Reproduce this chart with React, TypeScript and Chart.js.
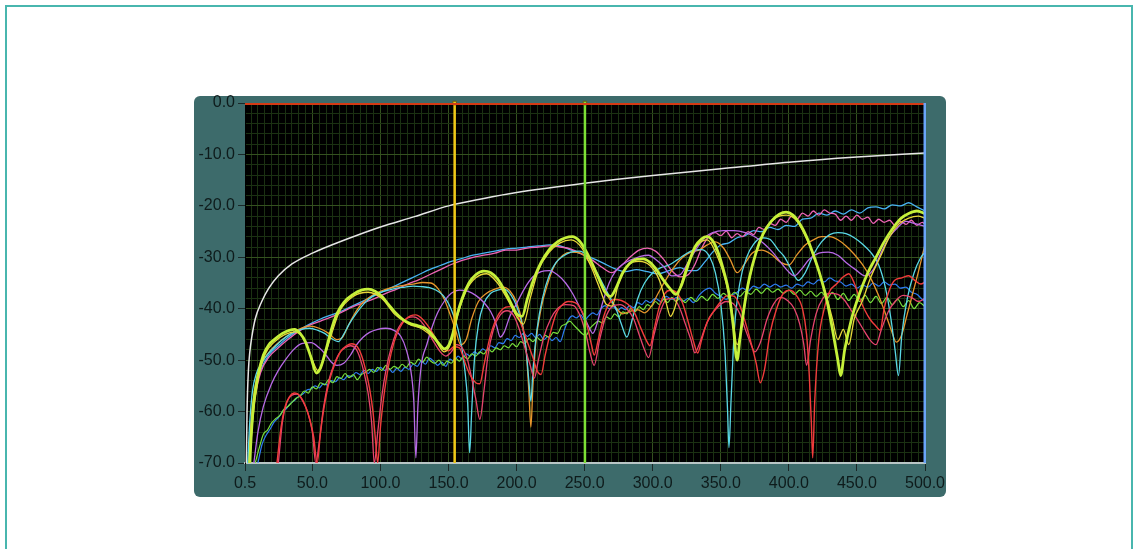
import React, { useEffect, useRef } from 'react';
import { Chart, registerables } from 'chart.js';

Chart.register(...registerables);

type P = [number, number];

// ---------- axes ----------
const X_MIN = 0.5;
const X_MAX = 500;
const Y_MIN = -70;
const Y_MAX = 0;
const xMajorTicks = [0.5, 50, 100, 150, 200, 250, 300, 350, 400, 450, 500];
const xMajorLabels = ['0.5', '50.0', '100.0', '150.0', '200.0', '250.0', '300.0', '350.0', '400.0', '450.0', '500.0'];
const yMajorTicks = [0, -10, -20, -30, -40, -50, -60, -70];
const yMajorLabels = ['0.0', '-10.0', '-20.0', '-30.0', '-40.0', '-50.0', '-60.0', '-70.0'];
const xMinorStep = 5;
const yMinorStep = 2;

// ---------- cursors ----------
const cursorYellowFreq = 154.5;
const cursorGreenFreq = 250.2;

// ---------- series (frequency, dB) ----------
const whiteRef: P[] = [
  [1.5, -70], [2, -60], [3, -52], [4, -48.5], [5.5, -45.5], [8, -42], [12.8, -38.6], [18, -36], [25, -33.6],
  [35, -31.3], [50, -29.2], [75, -26.5], [100, -24.1], [125, -22.1], [150, -20.0], [175, -18.6], [200, -17.4],
  [250, -15.6], [300, -14.1], [350, -12.8], [400, -11.5], [450, -10.5], [500, -9.7],
];

const yellowGreen: P[] = [
  [4, -70], [5, -65], [7, -58], [10, -53], [14, -49], [18, -47], [22, -46], [28, -44.8], [33, -44.2], [37, -44],
  [41, -44.8], [45, -46.5], [49, -49.5], [53, -52.5], [56, -51.5], [60, -48], [64, -44], [68, -41], [73, -38.8],
  [80, -37.2], [86, -36.4], [91, -36.2], [96, -36.6], [101, -37.6], [106, -39.2], [111, -40.8], [116, -42],
  [121, -42.8], [126, -43.2], [131, -43.6], [135, -44.2], [139, -45.4], [143, -46.8], [147, -47.8], [150, -47.2],
  [153, -45], [156, -41.5], [160, -38], [165, -35], [170, -33.4], [176, -32.7], [181, -33], [186, -34.2],
  [191, -36.4], [196, -39], [200, -41], [204, -41.5], [208, -38], [213, -34], [218, -31], [224, -28.5], [230, -27],
  [236, -26.2], [241, -26], [246, -26.8], [251, -28.8], [256, -31.5], [261, -34.5], [265, -36.8], [269, -37.6],
  [273, -36], [278, -33], [283, -31.2], [288, -30.4], [293, -30.3], [298, -31], [303, -32.5], [308, -34.5],
  [313, -36.2], [317, -37.2], [321, -35.5], [326, -31.5], [331, -28], [336, -26.4], [340, -26], [344, -26.8],
  [348, -29], [352, -32.5], [356, -37], [359, -43], [362, -50], [364, -46], [367, -40], [371, -34], [376, -29],
  [381, -25.5], [387, -23], [393, -21.6], [398, -21.2], [403, -21.8], [408, -23.5], [413, -26], [418, -29.5],
  [423, -33.5], [428, -38.5], [432, -44], [436, -50], [438, -53], [441, -48], [446, -42], [452, -37], [458, -33],
  [464, -30], [470, -27], [476, -24.5], [482, -22.5], [488, -21.5], [494, -21], [500, -21.5],
];

const yellow: P[] = [
  [4, -70], [6, -62], [10, -54], [15, -49], [22, -46.5], [30, -45], [37, -44.5], [44, -46], [50, -50], [54, -52],
  [58, -50], [64, -45], [70, -40.5], [80, -37.6], [91, -36.8], [101, -38], [111, -41.2], [121, -43], [131, -44],
  [140, -46], [147, -48.4], [152, -46.5], [157, -41], [163, -36.5], [170, -34], [178, -33.2], [186, -35],
  [194, -38.5], [200, -41.5], [205, -43], [210, -38], [216, -32.5], [224, -29], [232, -27.2], [240, -26.6],
  [248, -28.2], [255, -32], [261, -36], [266, -39.2], [270, -39.5], [275, -35], [282, -31.5], [290, -30.8],
  [298, -31.6], [305, -34.5], [310, -39], [313, -41.5], [316, -40], [320, -36], [326, -31], [333, -27.6],
  [340, -26.6], [347, -29.5], [353, -34], [358, -40], [362, -47], [365, -44], [369, -37], [375, -30], [382, -25],
  [390, -22.4], [398, -21.8], [406, -23], [414, -27], [421, -32], [427, -37], [432, -42], [436, -46], [440, -44],
  [444, -47], [448, -42], [454, -38.5], [460, -34], [467, -30], [474, -26], [481, -23.5], [488, -22.4], [495, -22],
  [500, -22.4],
];

const cyan: P[] = [
  [2.5, -70], [4, -62], [6, -56], [9, -52.5], [13, -50.5], [18, -48.6], [24, -47], [30, -45.6], [36, -44.6],
  [42, -44], [48, -43.8], [54, -44.2], [59, -44.8], [64, -45.8], [69, -46.4], [73, -45], [77, -43], [82, -41],
  [88, -39], [94, -37.6], [100, -36.8], [106, -36.4], [112, -36], [118, -35.8], [124, -35.6], [130, -35.7],
  [136, -35.9], [141, -36.4], [146, -37.4], [150, -39], [154, -41.5], [157, -44], [160, -48], [162, -52],
  [164, -58], [165.5, -68], [167, -60], [169, -50], [172, -43], [176, -39], [181, -37], [186, -36.4], [191, -36.2],
  [196, -37.4], [200, -39.5], [204, -43], [207, -48], [209, -54], [210.5, -58], [212, -52], [215, -44], [219, -38],
  [224, -33.5], [229, -31], [234, -29.8], [240, -29], [246, -28.8], [252, -29.8], [258, -32.5], [263, -35],
  [268, -37.5], [273, -40], [277, -43], [281, -45.5], [285, -42], [289, -38], [294, -35], [300, -33], [306, -32],
  [312, -31.5], [318, -30.5], [324, -29.4], [330, -28.6], [336, -28.5], [342, -30], [346, -33], [350, -39],
  [353, -48], [355, -60], [356, -67], [357.5, -58], [360, -44], [364, -35], [369, -30], [374, -27.5], [380, -26.2],
  [386, -26.5], [392, -28.5], [397, -30], [402, -32.5], [407, -34.5], [412, -33], [418, -29.5], [424, -27],
  [430, -25.6], [436, -25.2], [442, -25.4], [448, -26.2], [454, -27.4], [460, -29], [466, -31.5], [471, -36],
  [475, -42], [478, -48], [480.5, -53], [483, -45], [487, -38], [492, -33], [497, -30], [500, -29],
];

const orange: P[] = [
  [3, -70], [5, -62], [8, -55], [12, -51], [18, -48.5], [25, -46.6], [32, -45.2], [40, -44], [48, -43.4],
  [55, -43.8], [62, -44.8], [68, -46], [72, -45.6], [76, -43.5], [81, -41], [87, -38.8], [94, -37.4], [100, -36.6],
  [108, -35.9], [116, -35.5], [124, -35.2], [131, -34.9], [137, -35], [142, -36], [147, -38.2], [151, -41],
  [155, -44], [159, -47], [163, -46], [167, -42], [172, -38.6], [178, -37], [184, -36.2], [190, -35.8], [195, -36.5],
  [200, -38.8], [204, -42.5], [207, -48], [209, -56], [210.5, -63], [212, -55], [214, -47], [218, -40], [223, -35],
  [228, -31.5], [234, -29.6], [240, -29], [247, -29.2], [253, -30.8], [259, -33.6], [264, -36.4], [268, -38],
  [273, -39.8], [278, -41], [283, -40.5], [289, -40.2], [294, -40.8], [299, -39.5], [304, -37], [310, -34.2],
  [316, -31.8], [322, -30], [328, -29], [334, -28.6], [340, -27.6], [346, -27], [352, -28.2], [357, -30.5],
  [362, -33], [367, -31.5], [373, -29.2], [380, -28.6], [387, -29.4], [394, -31], [400, -31.5], [406, -29.5],
  [412, -27.6], [418, -26.6], [424, -26], [430, -26], [436, -26.6], [442, -27.8], [448, -29.4], [454, -31.4],
  [460, -34], [466, -37.5], [471, -41], [475, -44], [479, -46.5], [483, -45], [487, -41], [491, -37], [495, -33],
  [500, -27.5],
];

const violet: P[] = [
  [7, -70], [10, -64], [14, -59], [20, -54.6], [25, -52], [30, -50], [36, -48], [42, -46.8], [49, -46.6],
  [55, -47.6], [60, -49], [64, -50.4], [68, -51], [73, -50.6], [78, -49], [82, -47.2], [87, -45.6], [92, -44.6],
  [98, -44], [104, -43.8], [110, -44.2], [115, -45.4], [119, -48], [122, -51.5], [124.5, -58], [126, -69],
  [127.5, -59], [130, -51], [134, -47], [138, -43.5], [142, -40.8], [147, -38.5], [152, -37], [158, -36.4],
  [164, -36.6], [170, -37.4], [176, -38.8], [181, -40.6], [185, -43], [188, -45.5], [191, -44.5], [195, -41.5],
  [200, -39], [206, -36], [212, -33.8], [218, -32.8], [224, -32.6], [230, -33.4], [236, -35], [241, -37], [245, -39],
  [249, -41.2], [253, -43.5], [256, -44.8], [259, -43], [263, -39], [268, -35], [273, -32.6], [279, -31.2],
  [285, -30.4], [291, -29.8], [297, -29.6], [302, -30.4], [308, -31.8], [314, -33.6], [320, -33.4], [326, -31],
  [332, -28.4], [338, -26.2], [344, -25.2], [352, -24.8], [360, -24.8], [368, -25.2], [375, -26], [382, -27.4],
  [388, -29], [394, -31], [399, -32.6], [404, -33.6], [409, -32.4], [415, -30.4], [422, -29.2], [429, -29],
  [436, -29.6], [442, -31], [449, -32.4], [456, -33.6], [462, -32.4], [468, -29], [474, -26], [480, -24.2],
  [486, -23], [492, -23.4], [500, -24],
];

const pink: P[] = [
  [3, -70], [5, -63], [8, -57], [12, -52.4], [18, -49.4], [25, -47.6], [32, -46], [40, -44.4], [48, -43.2],
  [56, -42.4], [64, -41.6], [72, -40.6], [80, -39.6], [88, -38.8], [96, -38], [104, -37], [112, -36.2], [120, -35.2],
  [128, -34.4], [136, -33.4], [144, -32.4], [152, -31.4], [160, -30.6], [168, -30], [176, -29.6], [184, -29.2],
  [192, -28.6], [200, -28.6], [208, -28.2], [216, -28], [224, -27.8], [232, -28], [240, -28.4], [248, -29.4],
  [256, -30.6], [263, -32], [270, -33], [277, -31.6], [284, -29.8], [290, -28.6], [296, -28.2], [302, -28.8],
  [308, -30.4], [314, -32.6], [320, -33.8], [326, -33.4], [331, -31.4], [336, -28.2], [341, -26], [346, -25.2],
  [350, -25.8], [354, -24.9], [358, -26.2], [362, -25.4], [366, -26], [370, -25], [374, -25.6], [378, -24.2],
  [382, -24.6], [386, -23.4], [390, -23.8], [394, -22.6], [398, -23.2], [402, -22], [406, -22.6], [410, -21.4],
  [414, -22], [418, -21], [422, -21.8], [426, -20.8], [430, -21.4], [434, -21.6], [438, -22.8], [442, -22],
  [446, -22.8], [450, -21.8], [454, -22.6], [458, -22.2], [462, -23.4], [466, -22.6], [470, -23.2], [474, -22.8],
  [478, -23.8], [482, -23], [486, -23.6], [490, -22.8], [494, -23.8], [498, -23.2], [500, -23.6],
];

const skyBlue: P[] = [
  [3, -70], [5, -62], [8, -56], [12, -52], [18, -49], [25, -47.2], [32, -45.6], [40, -44.2], [48, -43], [56, -42],
  [64, -41.2], [72, -40.4], [80, -39.4], [88, -38.4], [96, -37.4], [104, -36.4], [112, -35.4], [120, -34.4],
  [128, -33.4], [136, -32.4], [144, -31.6], [152, -30.8], [160, -30.2], [168, -29.6], [176, -29.2], [184, -28.8],
  [192, -28.4], [200, -28.2], [208, -28], [216, -27.8], [224, -27.6], [232, -27.8], [240, -28.6], [248, -29.4],
  [256, -30.2], [264, -31.2], [272, -32.2], [280, -32.8], [288, -32.4], [296, -32.8], [304, -33.2], [312, -32.6],
  [320, -32], [326, -32.6], [332, -32.6], [338, -31], [344, -29], [350, -27.6], [356, -27.2], [362, -26.2],
  [368, -25.8], [374, -24.8], [380, -25], [386, -24.2], [392, -24.6], [398, -23.8], [404, -24], [410, -22.6],
  [416, -22.4], [422, -21.4], [428, -21.8], [434, -21], [440, -21.6], [446, -20.8], [452, -21.4], [458, -20.4],
  [464, -20.2], [470, -20.6], [476, -19.8], [482, -20], [488, -19.4], [494, -20.2], [500, -21],
];

const red: P[] = [
  [24, -70], [27, -63], [30, -59], [33, -57.2], [37, -56.4], [41, -57], [45, -59], [48, -61.5], [51, -65],
  [53.5, -70], [56, -64], [59, -58.5], [63, -53.5], [67, -50.4], [71, -48.2], [75, -47.2], [79, -46.8], [83, -47.4],
  [86, -49], [89, -51.8], [92, -55.5], [94.5, -60], [96.5, -66], [98, -70], [100, -63], [103, -56], [106, -51],
  [110, -46.5], [114, -43.8], [118, -42.2], [122, -41.4], [126, -41.2], [130, -41.8], [134, -43], [138, -44.6],
  [142, -46.4], [146, -47.8], [150, -48.2], [154, -47.4], [158, -47.6], [161, -49.6], [164, -51.8], [167, -53.4],
  [170, -54.4], [173, -54.6], [176, -51], [180, -46], [185, -42], [190, -40], [195, -39.6], [200, -40.8],
  [204, -43.5], [208, -46.5], [212, -49.5], [215, -52], [218, -52.8], [221, -49], [225, -44.5], [229, -41],
  [233, -39.4], [238, -38.6], [243, -38.8], [248, -40.5], [252, -43.5], [255, -47], [257, -49], [260, -46],
  [264, -41.5], [268, -39], [272, -38.2], [277, -38.4], [282, -39.2], [287, -41], [291, -43.6], [295, -46],
  [298, -47.2], [301, -44], [305, -39.5], [309, -37], [313, -36.4], [318, -37], [322, -39], [326, -42.5],
  [330, -46.4], [333, -48.6], [336, -46], [340, -42.6], [345, -40.4], [350, -38.6], [355, -37.4], [360, -37.6],
  [364, -39.4], [368, -42.6], [372, -46.4], [376, -50.6], [379, -54.4], [382, -52], [386, -45], [391, -40],
  [396, -37], [401, -36.4], [406, -37.6], [410, -40], [413, -45], [415, -53], [416.5, -62], [417.5, -69], [419, -58],
  [422, -46], [426, -40], [430, -36.6], [435, -35.2], [440, -33.8], [444, -33.2], [448, -35], [452, -38], [456, -40.4],
  [460, -42.2], [464, -43.4], [467, -44.2], [470, -40], [474, -36.2], [478, -34.4], [483, -34], [488, -33.6],
  [493, -34.6], [497, -35.2], [500, -34.8],
];

const crimson: P[] = [
  [25, -70], [28, -62], [31, -58.4], [35, -56.8], [39, -56.6], [43, -58], [47, -60.5], [50, -64], [52.5, -70],
  [55, -66], [58, -59.5], [62, -54], [66, -50.8], [70, -48.6], [74, -47.6], [78, -47.2], [82, -47.8], [85, -49.6],
  [88, -52.5], [91, -56.5], [93.5, -62], [95.5, -70], [98, -64], [101, -57], [104, -52], [108, -47.5], [112, -44.4],
  [116, -42.6], [120, -41.8], [124, -41.6], [128, -42], [132, -43.2], [136, -45], [140, -46.8], [144, -48.4],
  [148, -49.2], [152, -48.4], [156, -47], [160, -47.6], [164, -50], [167, -53.5], [170, -57.5], [173, -61.5],
  [176, -56], [179, -49], [183, -44], [188, -41.2], [193, -40.4], [198, -41.4], [202, -44], [206, -47.5], [210, -51],
  [213, -53.5], [216, -50], [220, -45.5], [225, -42], [230, -40], [236, -39.2], [242, -39.4], [247, -41.6],
  [251, -45], [254, -48.6], [257, -51], [261, -46], [265, -42], [270, -39.6], [276, -39.2], [281, -40], [286, -42],
  [290, -45], [294, -48], [297, -49.5], [301, -45], [305, -41], [310, -38.2], [315, -38], [320, -40], [324, -43],
  [328, -46], [331, -48.6], [334, -47], [338, -44], [342, -41.6], [348, -39.6], [354, -38.6], [359, -39], [364, -41],
  [368, -44], [372, -46.8], [375, -48.4], [379, -46.6], [384, -42], [389, -39], [394, -37.8], [399, -38.4],
  [404, -40], [408, -43], [411, -47], [413, -51], [416, -46], [420, -41], [425, -38], [430, -37], [436, -37.2],
  [441, -38.4], [446, -40.4], [451, -42.4], [456, -44.6], [460, -46.2], [464, -47], [468, -44], [473, -40.6],
  [478, -38.6], [484, -37.4], [490, -37.8], [495, -38.6], [500, -38],
];

const green: P[] = [
  [8, -70], [11, -67], [14, -64.4], [17, -63.6], [20, -62.2], [23, -61.4], [26, -60.8], [29, -59.6], [32, -59],
  [35, -58.2], [38, -57.4], [41, -57], [44, -56], [47, -56.4], [50, -55.2], [53, -55.6], [56, -54.4], [59, -54.8],
  [62, -53.8], [65, -54.4], [68, -53.2], [71, -53.6], [74, -52.6], [77, -53.4], [80, -52.8], [83, -53.8],
  [86, -52.8], [89, -52.4], [92, -51.8], [95, -52.4], [98, -51.4], [101, -52], [104, -51], [107, -51.8], [110, -51.2],
  [113, -51.6], [116, -50.8], [119, -51.4], [122, -50.4], [125, -50.8], [128, -49.8], [131, -50.4], [134, -49.4],
  [137, -50.2], [140, -50.6], [143, -50], [146, -51], [149, -50.2], [152, -50.6], [155, -49.6], [158, -50.2],
  [161, -49.2], [164, -49.8], [167, -48.8], [170, -49.2], [173, -48.4], [176, -48.8], [179, -47.8], [182, -48.4],
  [185, -47.6], [188, -48], [191, -47.2], [194, -47.6], [197, -46.8], [200, -47.4], [203, -46.4], [206, -46.8],
  [209, -45.8], [212, -46.4], [215, -45.6], [218, -46.2], [221, -45.2], [224, -45.6], [227, -44.6], [230, -44.8],
  [233, -43.4], [236, -43], [239, -42.4], [242, -43.2], [245, -44], [248, -44.8], [251, -45.2], [254, -43.8],
  [257, -43], [260, -42.4], [263, -42.8], [266, -41.6], [269, -42], [272, -41], [275, -41.6], [278, -40.6],
  [281, -41], [284, -40], [287, -40.6], [290, -39.6], [293, -40.2], [296, -39.2], [299, -39.6], [302, -38.6],
  [305, -39.2], [308, -38.2], [311, -38.8], [314, -37.8], [317, -38.6], [320, -38], [324, -38.8], [328, -37.8],
  [332, -38.6], [336, -37.6], [340, -38.4], [344, -37.2], [348, -38], [352, -37], [356, -37.8], [360, -36.8],
  [364, -37.6], [368, -36.6], [372, -37.2], [376, -36.2], [380, -37], [384, -36], [388, -36.8], [392, -36.2],
  [396, -37], [400, -36.4], [404, -37.2], [408, -36.4], [412, -37.4], [416, -36.6], [420, -37.6], [424, -36.8],
  [428, -38], [432, -36.8], [436, -38.2], [440, -37], [444, -38.4], [448, -37.2], [452, -38.6], [456, -37.4],
  [460, -38.8], [464, -37.6], [468, -39], [472, -37.8], [476, -39.2], [480, -38.2], [484, -39.6], [488, -38.4],
  [492, -40], [496, -38.8], [500, -39.6],
];

const blue: P[] = [
  [10, -70], [13, -66.4], [16, -64.6], [19, -63.4], [22, -62], [25, -61.2], [28, -60], [31, -59.4], [34, -58.4],
  [37, -57.8], [40, -57], [43, -56.6], [46, -55.8], [49, -55.6], [52, -55], [55, -55.4], [58, -54.6], [61, -54.8],
  [64, -54], [67, -54.2], [70, -53.4], [73, -53.8], [76, -53], [79, -53.2], [82, -52.4], [85, -52.8], [88, -52],
  [91, -52.6], [94, -51.8], [97, -52.2], [100, -51.4], [103, -52], [106, -51.6], [109, -52.4], [112, -51.6],
  [115, -52.2], [118, -51.4], [121, -51.8], [124, -50.8], [127, -51.2], [130, -50.2], [133, -50.8], [136, -49.6],
  [139, -50.2], [142, -51], [145, -50.4], [148, -51.2], [151, -49.8], [154, -50.2], [157, -49.2], [160, -49.8],
  [163, -48.8], [166, -49.2], [169, -48.4], [172, -48.8], [175, -47.8], [178, -48.2], [181, -47.2], [184, -47.6],
  [187, -46.6], [190, -46.8], [193, -45.8], [196, -46.2], [199, -45.2], [202, -45.6], [205, -44.8], [208, -45.4],
  [211, -44.8], [214, -45.6], [217, -45], [220, -46], [223, -45.4], [226, -46.2], [229, -45.6], [232, -46.4],
  [235, -44.2], [238, -42.2], [241, -41.4], [244, -41.8], [247, -41.2], [250, -42.2], [253, -41.4], [256, -40.8],
  [259, -41.2], [262, -40], [265, -39.4], [268, -40], [271, -39.6], [274, -40.4], [277, -39.8], [280, -40.2],
  [283, -39.4], [286, -39.8], [289, -38.8], [292, -39.2], [295, -38.4], [298, -38.8], [302, -38], [306, -38.6],
  [310, -37.6], [314, -38.2], [318, -37.8], [322, -38.6], [326, -38], [330, -38.8], [334, -37.4], [338, -36.4],
  [342, -36], [346, -37], [350, -37.6], [354, -38.2], [358, -37.4], [362, -36.8], [366, -36], [370, -36.6],
  [374, -35.6], [378, -36], [382, -35.2], [386, -35.8], [390, -35.2], [394, -35.8], [398, -35.4], [402, -36],
  [406, -35.2], [410, -35.6], [414, -34.8], [418, -35.2], [422, -34.4], [426, -34.8], [430, -34], [434, -34.6],
  [438, -34.8], [442, -35.6], [446, -35.2], [450, -36], [454, -35.4], [458, -35.8], [462, -35], [466, -35.6],
  [470, -34.8], [474, -35.4], [478, -35.2], [482, -36], [486, -35.8], [490, -36.8], [494, -37.2], [498, -38.2],
  [500, -38.6],
];

// ---------- helpers ----------
const FONT = '"Liberation Sans", Arial, sans-serif';
const MAJOR_GRID = '#34511f';
const MINOR_GRID = '#1b3112';
const TICK_MARK = '#1a2828';
const LABEL = '#0e1b1b';

const isMajorX = (v: number) => xMajorTicks.some((m) => Math.abs(m - v) < 1e-6);
const isMajorY = (v: number) => yMajorTicks.some((m) => Math.abs(m - v) < 1e-6);

const series = (pts: P[], color: string, width = 1.3) => ({
  data: pts.map(([x, y]) => ({ x, y })),
  borderColor: color,
  backgroundColor: color,
  borderWidth: width,
  pointRadius: 0,
  fill: false,
  cubicInterpolationMode: 'monotone' as const,
});

const vline = (x: number, color: string, width: number, marker: boolean) => ({
  data: [{ x, y: Y_MAX }, { x, y: Y_MIN }],
  borderColor: color,
  backgroundColor: color,
  borderWidth: width,
  tension: 0,
  pointRadius: (c: any) => (marker && c.dataIndex === 0 ? 2.5 : 0),
  pointStyle: 'rect' as const,
  pointBorderColor: '#6a5a10',
  pointBorderWidth: 1,
  fill: false,
  clip: { left: 0, right: 1, top: 3, bottom: 0 },
});

const panelPlugin = {
  id: 'lvPanel',
  beforeDraw(chart: any) {
    const { ctx, chartArea: a } = chart;
    ctx.save();
    ctx.fillStyle = '#3d6b6b';
    ctx.beginPath();
    const px = a.left - 51;
    const py = a.top - 7;
    const pw = a.right - a.left + 72;
    const ph = a.bottom - a.top + 41;
    if ((ctx as any).roundRect) (ctx as any).roundRect(px, py, pw, ph, 6);
    else ctx.rect(px, py, pw, ph);
    ctx.fill();
    ctx.fillStyle = '#000000';
    ctx.fillRect(a.left, a.top, a.right - a.left, a.bottom - a.top);
    ctx.restore();
  },
};

export default function App() {
  const canvasRef = useRef<HTMLCanvasElement | null>(null);

  useEffect(() => {
    if (!canvasRef.current) return;
    const xTicks: number[] = [X_MIN];
    for (let v = xMinorStep; v <= X_MAX + 1e-9; v += xMinorStep) xTicks.push(v);
    const yTicks: number[] = [];
    for (let v = Y_MIN; v <= Y_MAX + 1e-9; v += yMinorStep) yTicks.push(v);

    const chart = new Chart(canvasRef.current, {
      type: 'line',
      data: {
        datasets: [
          { ...vline(X_MAX, '#6aa4f8', 3, false) },
          {
            data: [{ x: X_MIN, y: Y_MAX }, { x: X_MAX, y: Y_MAX }],
            borderColor: '#d43a14',
            borderWidth: 4,
            pointRadius: 0,
            tension: 0,
            fill: false,
            clip: { left: 0, right: 0, top: 0, bottom: 0 },
          },
          { ...vline(cursorYellowFreq, '#f0c818', 2.5, true) },
          { ...vline(cursorGreenFreq, '#7ee036', 2.5, true) },
          series(yellowGreen, '#c6f03a', 2.8),
          series(yellow, '#ead83a', 1.3),
          series(red, '#f23c3c', 1.4),
          series(crimson, '#e8446e', 1.3),
          series(violet, '#b86ae6', 1.3),
          series(cyan, '#5ad8e6', 1.3),
          series(orange, '#e8962c', 1.3),
          series(pink, '#ee64b4', 1.3),
          series(skyBlue, '#48b4f4', 1.3),
          series(green, '#78e03c', 1.2),
          series(blue, '#2e7cf4', 1.2),
          series(whiteRef, '#e6e6e6', 1.5),
        ] as any,
      },
      options: {
        responsive: false,
        maintainAspectRatio: false,
        animation: false,
        events: [],
        layout: { padding: { left: 194, right: 213, top: 103, bottom: 52 } },
        plugins: { legend: { display: false }, tooltip: { enabled: false } },
        scales: {
          x: {
            type: 'linear',
            min: X_MIN,
            max: X_MAX,
            afterBuildTicks: (s: any) => {
              s.ticks = xTicks.map((value) => ({ value }));
            },
            afterFit: (s: any) => {
              s.height = 34;
            },
            ticks: {
              autoSkip: false,
              maxRotation: 0,
              minRotation: 0,
              padding: 3,
              color: LABEL,
              font: { family: FONT, size: 16 },
              callback: (v: any) => {
                const i = xMajorTicks.findIndex((m) => Math.abs(m - Number(v)) < 1e-6);
                return i >= 0 ? xMajorLabels[i] : '';
              },
            },
            grid: {
              color: (c: any) => (c.tick && isMajorX(c.tick.value) ? MAJOR_GRID : MINOR_GRID),
              tickColor: (c: any) => (c.tick && isMajorX(c.tick.value) ? TICK_MARK : 'rgba(0,0,0,0)'),
              tickLength: 8,
              lineWidth: 1,
            },
            border: { color: '#b9c6c6', width: 2 },
          },
          y: {
            type: 'linear',
            min: Y_MIN,
            max: Y_MAX,
            afterBuildTicks: (s: any) => {
              s.ticks = yTicks.map((value) => ({ value }));
            },
            afterFit: (s: any) => {
              s.width = 51;
            },
            ticks: {
              autoSkip: false,
              padding: 3,
              color: LABEL,
              font: { family: FONT, size: 16 },
              callback: (v: any) => {
                const i = yMajorTicks.findIndex((m) => Math.abs(m - Number(v)) < 1e-6);
                return i >= 0 ? yMajorLabels[i] : '';
              },
            },
            grid: {
              color: (c: any) => (c.tick && isMajorY(c.tick.value) ? MAJOR_GRID : MINOR_GRID),
              tickColor: (c: any) => (c.tick && isMajorY(c.tick.value) ? TICK_MARK : 'rgba(0,0,0,0)'),
              tickLength: 7,
              lineWidth: 1,
            },
            border: { color: '#000000', width: 1 },
          },
        },
      },
      plugins: [panelPlugin],
    });
    return () => chart.destroy();
  }, []);

  return (
    <div style={{ position: 'absolute', left: 0, top: 0, width: 1138, height: 549, overflow: 'hidden', background: '#ffffff' }}>
      <div
        style={{
          position: 'absolute',
          left: 5,
          top: 5,
          width: 1128,
          height: 600,
          boxSizing: 'border-box',
          border: '2px solid #48b6ae',
        }}
      />
      <canvas
        ref={canvasRef}
        width={1138}
        height={549}
        style={{ position: 'absolute', left: 0, top: 0, width: 1138, height: 549 }}
      />
    </div>
  );
}
